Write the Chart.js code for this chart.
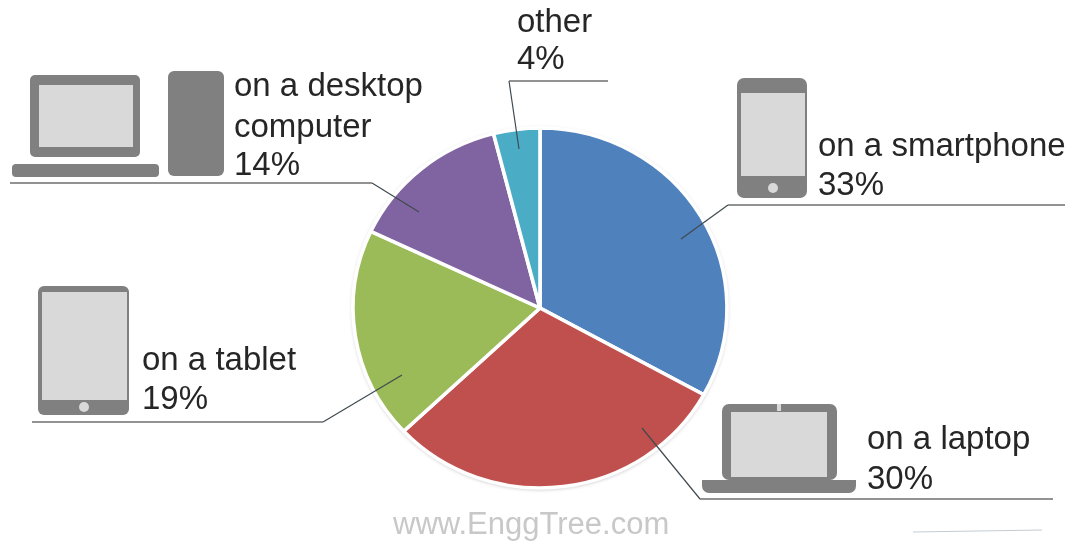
<!DOCTYPE html>
<html>
<head>
<meta charset="utf-8">
<title>Where people go online</title>
<script src="https://cdn.jsdelivr.net/npm/chart.js@4"></script>
<style>
    html, body { margin: 0; padding: 0; background: #fff; }
    canvas { display: block; }
</style>
</head>
<body>
<canvas id="deviceChart" width="1073" height="546"></canvas>
<script>
const categories = ['on a smartphone', 'on a laptop', 'on a tablet', 'on a desktop computer', 'other'];
const shares = [33, 30, 19, 14, 4];
const sliceColors = ['#4f81bd', '#c0504d', '#9bbb59', '#8064a2', '#4bacc6'];

const FONT = '33px "Liberation Sans", Arial, sans-serif';
const GREY = '#808080';
const SCREEN = '#d9d9d9';

// The pie is a little wider than it is tall
const CX = 540, CY = 308, STRETCH = 187 / 180;

function box(ctx, x0, y0, x1, y1, r, color) {
    ctx.fillStyle = color;
    ctx.beginPath();
    ctx.roundRect(x0, y0, x1 - x0, y1 - y0, r);
    ctx.fill();
}

function dot(ctx, x, y, r, color) {
    ctx.fillStyle = color;
    ctx.beginPath();
    ctx.arc(x, y, r, 0, Math.PI * 2);
    ctx.fill();
}

function drawIcons(ctx) {
    // desktop: monitor, keyboard, tower
    box(ctx, 30, 75, 140, 157, 5, GREY);
    box(ctx, 39, 85, 133, 147, 0, SCREEN);
    box(ctx, 12, 164, 159, 177, 4, GREY);
    box(ctx, 168, 71, 224, 176, 6, GREY);

    // smartphone
    box(ctx, 737, 78, 807, 198, 7, GREY);
    box(ctx, 741, 93, 805, 176, 0, SCREEN);
    dot(ctx, 773, 188, 5, SCREEN);

    // laptop
    box(ctx, 722, 404, 837, 480, 7, GREY);
    box(ctx, 731, 412, 827, 477, 0, SCREEN);
    box(ctx, 777, 404, 781, 411, 0, SCREEN);
    box(ctx, 702, 480, 856, 493, [0, 0, 7, 7], GREY);

    // tablet
    box(ctx, 38, 286, 129, 415, 6, GREY);
    box(ctx, 42, 292, 127, 400, 0, SCREEN);
    dot(ctx, 84, 407, 5, SCREEN);
}

function drawLeaders(ctx) {
    const leaders = [
        [[681, 239], [728, 205], [1065, 205]],
        [[642, 428], [700, 499], [1053, 499]],
        [[402, 375], [323, 422], [32, 422]],
        [[419, 212], [372, 183], [10, 183]],
        [[519, 149], [509, 81], [608, 81]]
    ];
    leaders.forEach(function (pts) {
        // slanted part is thin, the shelf under the label is heavier
        ctx.strokeStyle = '#3f4a50';
        ctx.lineWidth = 1.2;
        ctx.beginPath();
        ctx.moveTo(pts[0][0], pts[0][1]);
        ctx.lineTo(pts[1][0], pts[1][1]);
        ctx.stroke();
        ctx.strokeStyle = '#6e6e6e';
        ctx.lineWidth = 1.6;
        ctx.beginPath();
        ctx.moveTo(pts[1][0], pts[1][1]);
        ctx.lineTo(pts[2][0], pts[2][1]);
        ctx.stroke();
    });
}

function drawLabels(ctx) {
    ctx.font = FONT;
    ctx.fillStyle = '#262626';
    ctx.textAlign = 'left';
    ctx.textBaseline = 'alphabetic';

    ctx.fillText(categories[0], 818, 156);
    ctx.fillText(shares[0] + '%', 818, 195);

    ctx.fillText(categories[1], 867, 449);
    ctx.fillText(shares[1] + '%', 867, 489);

    ctx.fillText(categories[2], 142, 370);
    ctx.fillText(shares[2] + '%', 142, 409);

    ctx.fillText('on a desktop', 234, 96);
    ctx.fillText('computer', 234, 137);
    ctx.fillText(shares[3] + '%', 234, 175);

    ctx.fillText(categories[4], 517, 32);
    ctx.fillText(shares[4] + '%', 517, 69);

    ctx.font = '31px "Liberation Sans", Arial, sans-serif';
    ctx.fillStyle = '#c8c8c8';
    ctx.fillText('www.EnggTree.com', 393, 534);
}

const ellipsePie = {
    id: 'ellipsePie',
    beforeDatasetsDraw(chart) {
        const ctx = chart.ctx;
        ctx.save();
        // soft edge round the pie
        ctx.fillStyle = '#fff';
        ctx.shadowColor = 'rgba(0,0,0,0.35)';
        ctx.shadowBlur = 4;
        ctx.shadowOffsetY = 1;
        ctx.beginPath();
        ctx.ellipse(CX, CY, 187, 180, 0, 0, Math.PI * 2);
        ctx.fill();
        ctx.restore();

        ctx.save();
        ctx.translate(CX, 0);
        ctx.scale(STRETCH, 1);
        ctx.translate(-CX, 0);
    },
    afterDatasetsDraw(chart) {
        chart.ctx.restore();
    }
};

const annotations = {
    id: 'annotations',
    beforeDatasetsDraw(chart) {
        drawIcons(chart.ctx);
    },
    afterDraw(chart) {
        const ctx = chart.ctx;
        drawLeaders(ctx);
        drawLabels(ctx);

        // stray line fragment at the lower right
        ctx.strokeStyle = '#c4ccd2';
        ctx.lineWidth = 1.2;
        ctx.beginPath();
        ctx.moveTo(913, 532);
        ctx.lineTo(1042, 530);
        ctx.stroke();
    }
};

new Chart(document.getElementById('deviceChart').getContext('2d'), {
    type: 'pie',
    data: {
        labels: categories,
        datasets: [{
            data: shares,
            backgroundColor: sliceColors,
            borderColor: '#ffffff',
            borderWidth: 3.5
        }]
    },
    options: {
        responsive: false,
        animation: false,
        radius: 180,
        layout: { padding: { left: 7, top: 70 } },
        plugins: {
            legend: { display: false },
            tooltip: { enabled: false }
        }
    },
    plugins: [annotations, ellipsePie]
});
</script>
</body>
</html>
